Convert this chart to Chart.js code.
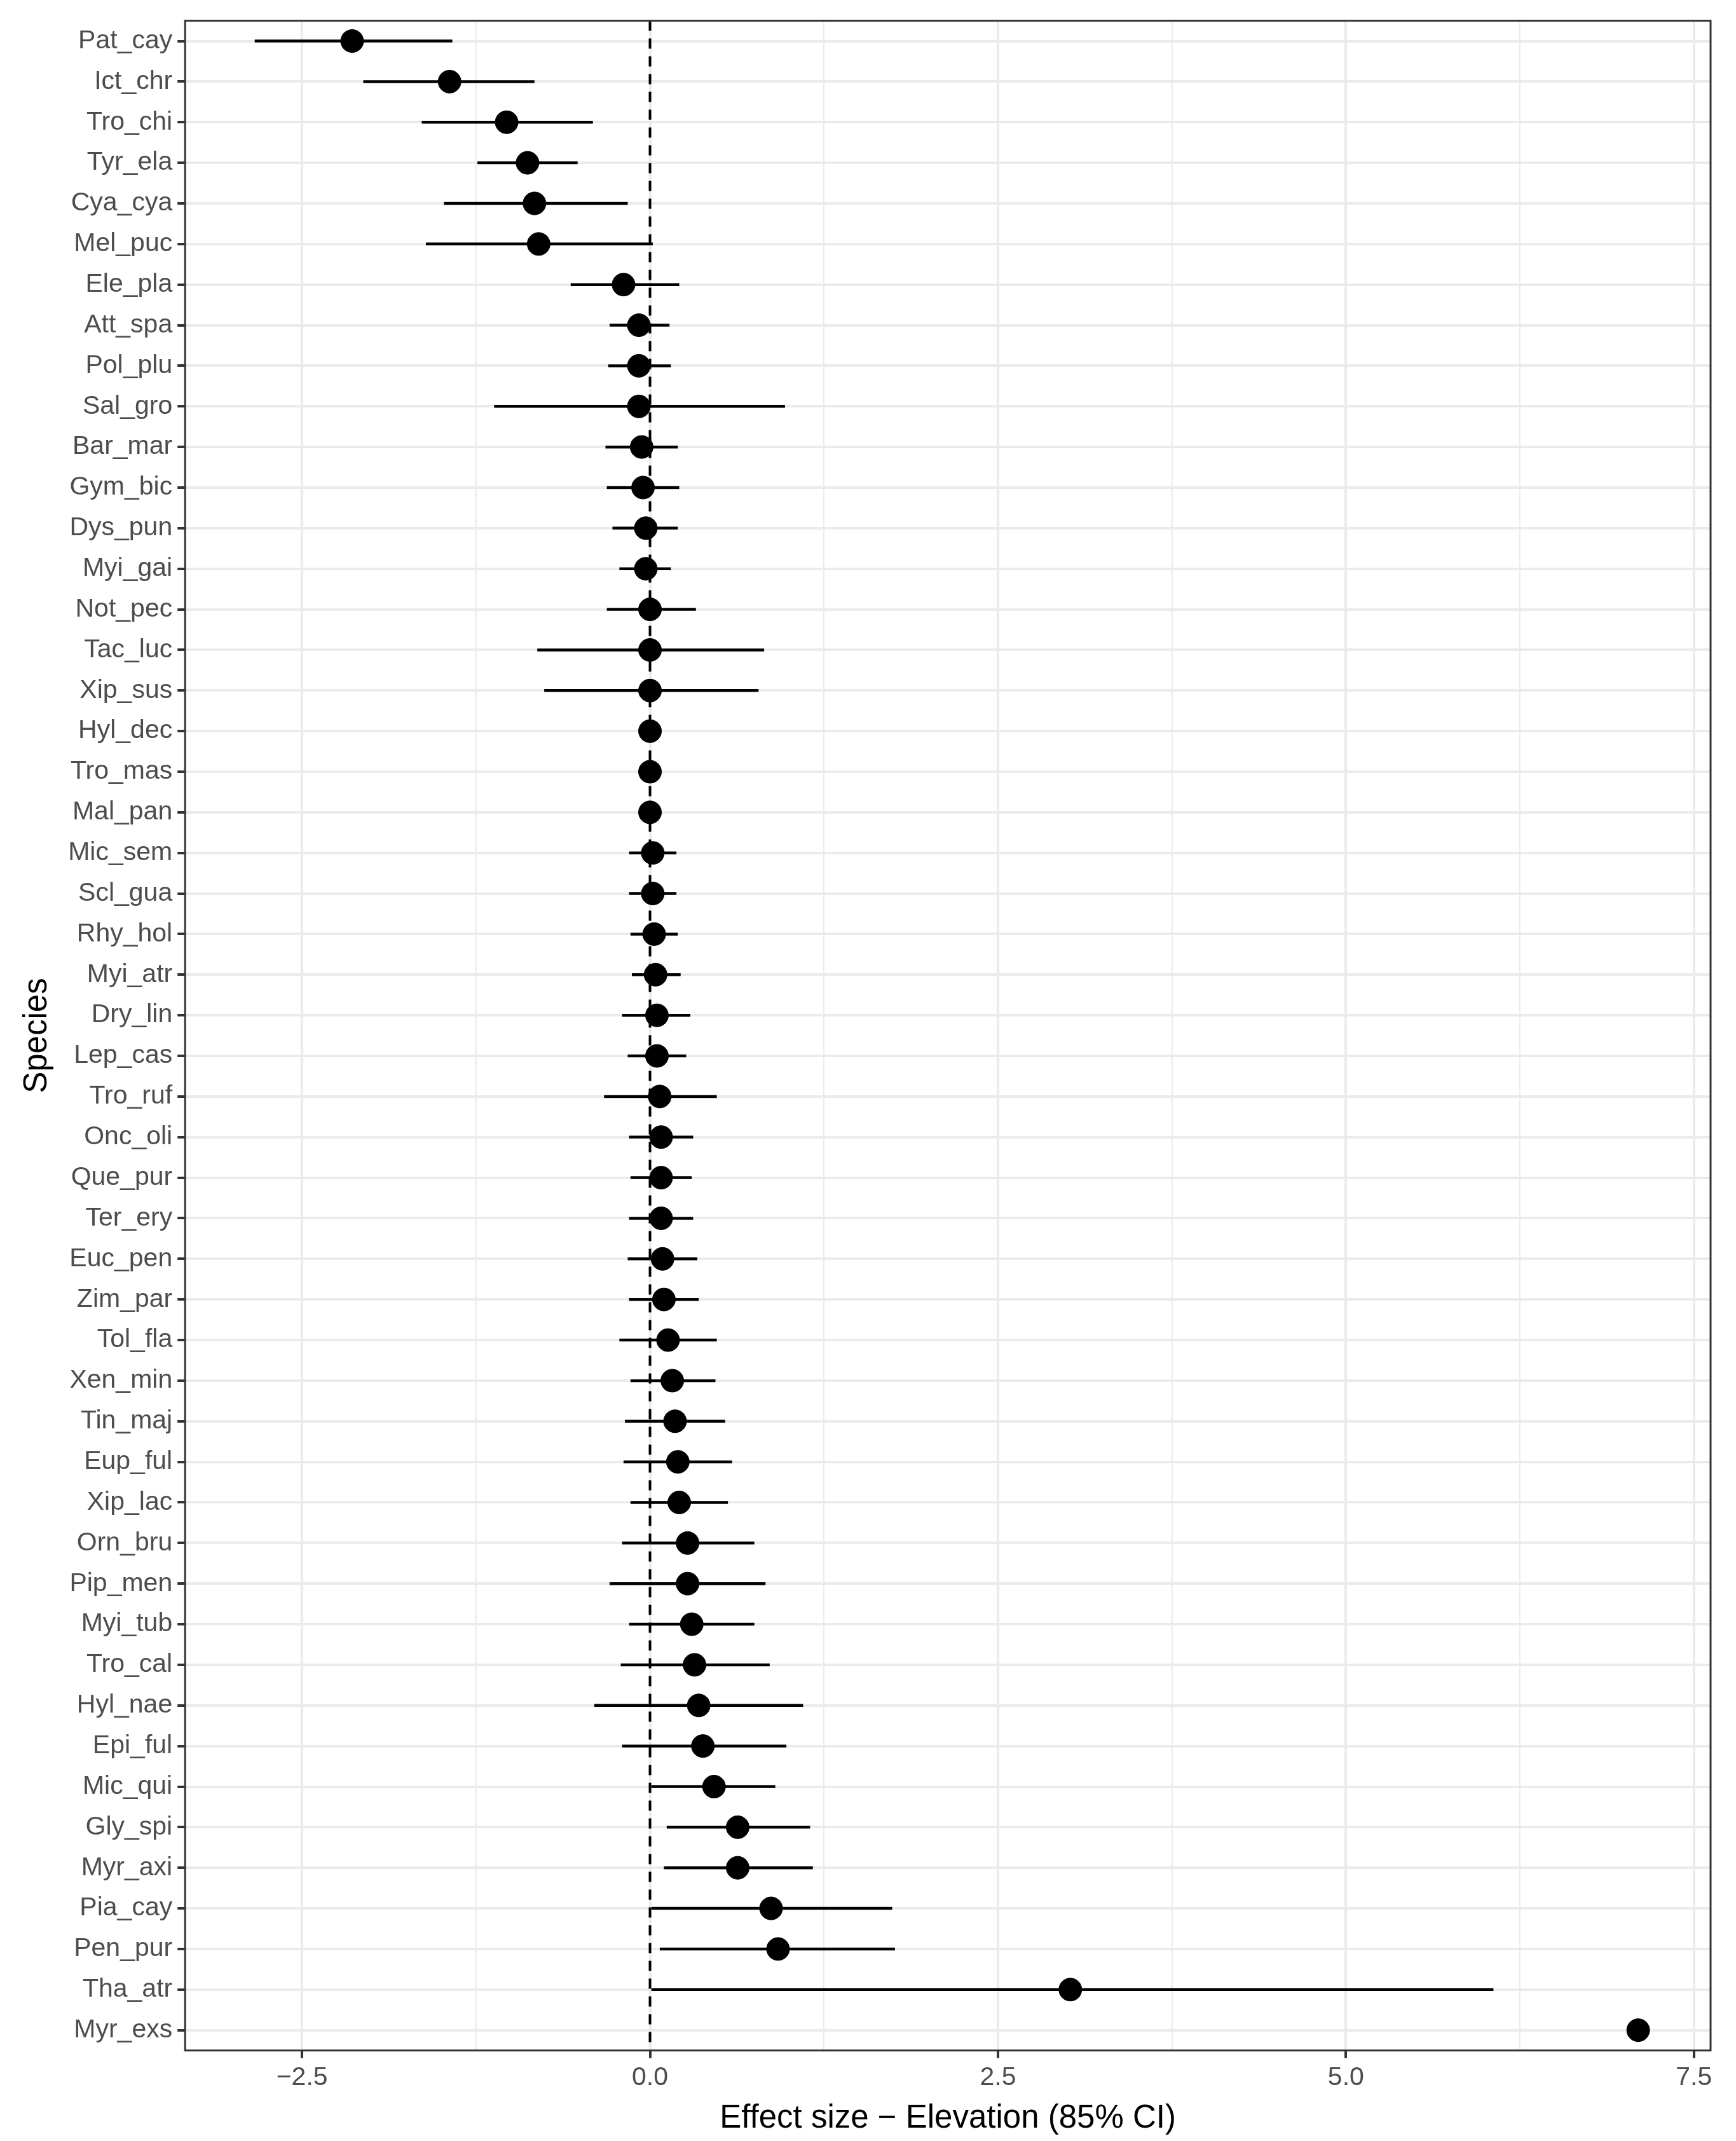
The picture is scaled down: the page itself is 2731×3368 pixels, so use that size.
<!DOCTYPE html>
<html>
<head>
<meta charset="utf-8">
<script src="https://cdn.jsdelivr.net/npm/chart.js@4/dist/chart.umd.min.js"></script>
<style>
  html, body { margin: 0; padding: 0; background: #fff; }
  #wrap { width: 2731px; height: 3368px; }
</style>
</head>
<body>
<div id="wrap"><canvas id="chart"></canvas></div>
<script>
const species = ['Pat_cay','Ict_chr','Tro_chi','Tyr_ela','Cya_cya','Mel_puc','Ele_pla','Att_spa','Pol_plu','Sal_gro',
  'Bar_mar','Gym_bic','Dys_pun','Myi_gai','Not_pec','Tac_luc','Xip_sus','Hyl_dec','Tro_mas','Mal_pan',
  'Mic_sem','Scl_gua','Rhy_hol','Myi_atr','Dry_lin','Lep_cas','Tro_ruf','Onc_oli','Que_pur','Ter_ery',
  'Euc_pen','Zim_par','Tol_fla','Xen_min','Tin_maj','Eup_ful','Xip_lac','Orn_bru','Pip_men','Myi_tub',
  'Tro_cal','Hyl_nae','Epi_ful','Mic_qui','Gly_spi','Myr_axi','Pia_cay','Pen_pur','Tha_atr','Myr_exs'];
const estimate = [-2.14,-1.44,-1.03,-0.88,-0.83,-0.80,-0.19,-0.08,-0.08,-0.08,
  -0.06,-0.05,-0.03,-0.03,0,0,0,0,0,0,
  0.02,0.02,0.03,0.04,0.05,0.05,0.07,0.08,0.08,0.08,
  0.09,0.10,0.13,0.16,0.18,0.20,0.21,0.27,0.27,0.30,
  0.32,0.35,0.38,0.46,0.63,0.63,0.87,0.92,3.02,7.10];
const lower = [-2.84,-2.06,-1.64,-1.24,-1.48,-1.61,-0.57,-0.29,-0.30,-1.12,
  -0.32,-0.31,-0.27,-0.22,-0.31,-0.81,-0.76,-0.02,-0.02,-0.02,
  -0.15,-0.15,-0.14,-0.13,-0.20,-0.16,-0.33,-0.15,-0.14,-0.15,
  -0.16,-0.15,-0.22,-0.14,-0.18,-0.19,-0.14,-0.20,-0.29,-0.15,
  -0.21,-0.40,-0.20,0.01,0.12,0.10,0.01,0.07,0.01,7.08];
const upper = [-1.42,-0.83,-0.41,-0.52,-0.16,0.02,0.21,0.14,0.15,0.97,
  0.20,0.21,0.20,0.15,0.33,0.82,0.78,0.03,0.03,0.03,
  0.19,0.19,0.20,0.22,0.29,0.26,0.48,0.31,0.30,0.31,
  0.34,0.35,0.48,0.47,0.54,0.59,0.56,0.75,0.83,0.75,
  0.86,1.10,0.98,0.90,1.15,1.17,1.74,1.76,6.06,7.12];
const xTicks = [-2.5,-1.25,0,1.25,2.5,3.75,5,6.25,7.5];

const isMajor = v => Math.abs(v / 2.5 - Math.round(v / 2.5)) < 1e-6;

const errorBars = {
  id: 'errorBars',
  beforeDatasetsDraw(chart) {
    const { ctx, scales: { x, y }, chartArea } = chart;
    ctx.save();
    // dashed zero line
    ctx.strokeStyle = '#000';
    ctx.lineWidth = 4;
    ctx.setLineDash([16, 12]);
    ctx.beginPath();
    ctx.moveTo(x.getPixelForValue(0), chartArea.top);
    ctx.lineTo(x.getPixelForValue(0), chartArea.bottom);
    ctx.stroke();
    ctx.setLineDash([]);
    ctx.lineWidth = 4.5;
    species.forEach((s, i) => {
      const py = y.getPixelForValue(i);
      ctx.beginPath();
      ctx.moveTo(x.getPixelForValue(lower[i]), py);
      ctx.lineTo(x.getPixelForValue(upper[i]), py);
      ctx.stroke();
    });
    ctx.restore();
  },
  afterDraw(chart) {
    const { ctx, chartArea } = chart;
    ctx.save();
    ctx.strokeStyle = '#333';
    ctx.lineWidth = 3;
    ctx.strokeRect(chartArea.left, chartArea.top, chartArea.width, chartArea.height);
    ctx.restore();
  }
};

new Chart(document.getElementById('chart'), {
  type: 'scatter',
  data: {
    datasets: [{
      data: species.map((s, i) => ({ x: estimate[i], y: s })),
      backgroundColor: '#000',
      borderColor: '#000',
      pointRadius: 18,
      pointHoverRadius: 18
    }]
  },
  plugins: [errorBars],
  options: {
    responsive: true,
    maintainAspectRatio: false,
    animation: false,
    layout: { padding: { top: 30, right: 40, bottom: 4, left: 28 } },
    plugins: { legend: { display: false }, tooltip: { enabled: false } },
    scales: {
      x: {
        type: 'linear',
        min: -3.34, max: 7.62,
        afterBuildTicks: ax => { ax.ticks = xTicks.map(v => ({ value: v })); },
        grid: {
          color: '#ebebeb',
          lineWidth: c => (isMajor(c.tick.value) ? 4 : 2),
          tickColor: c => (isMajor(c.tick.value) ? '#333' : 'rgba(0,0,0,0)'),
          tickLength: 12
        },
        border: { display: false },
        ticks: {
          color: '#4d4d4d',
          font: { family: 'Liberation Sans', size: 41 },
          padding: 6,
          callback: v => (isMajor(v) ? v.toFixed(1).replace('-', '\u2212') : '')
        },
        title: {
          display: true,
          text: 'Effect size \u2212 Elevation (85% CI)',
          color: '#000',
          font: { family: 'Liberation Sans', size: 51 },
          padding: { top: 4, bottom: 0 }
        }
      },
      y: {
        type: 'category',
        labels: species,
        offset: true,
        grid: { color: '#ebebeb', lineWidth: 4, tickColor: '#333', tickLength: 12 },
        border: { display: false },
        ticks: {
          color: '#4d4d4d',
          font: { family: 'Liberation Sans', size: 41 },
          padding: 8,
          autoSkip: false
        },
        title: {
          display: true,
          text: 'Species',
          color: '#000',
          font: { family: 'Liberation Sans', size: 51 },
          padding: { top: 0, bottom: 10 }
        }
      }
    }
  }
});
</script>
</body>
</html>
